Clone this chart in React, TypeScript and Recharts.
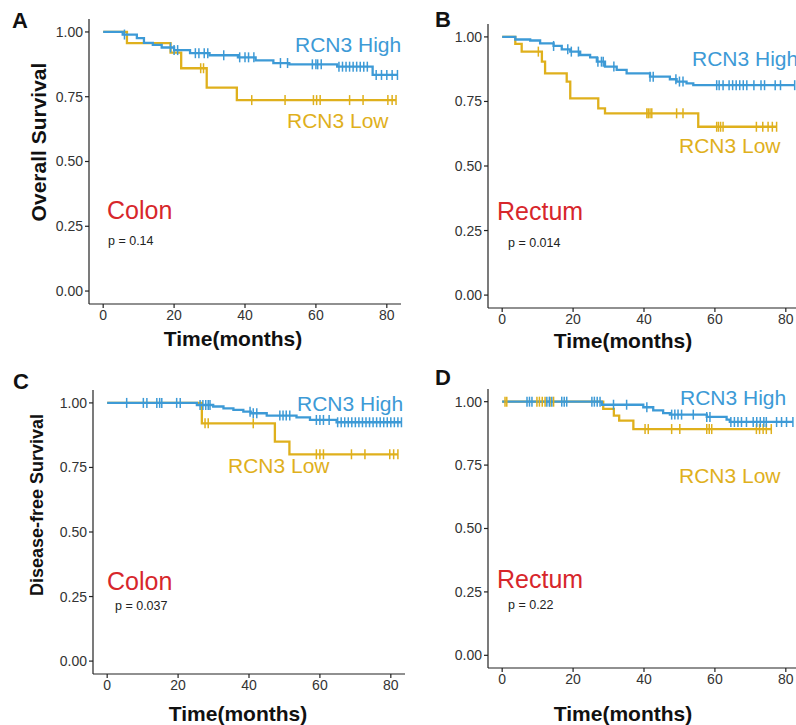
import React from "react";
import { LineChart, Line, XAxis, YAxis } from "recharts";

// step points [months, survival] and censor times
const colonOsHigh: [number, number][] = [
  [0, 1], [5.5, 0.99], [9.5, 0.976], [11.5, 0.958], [14, 0.95], [16.5, 0.94],
  [20, 0.93], [24.5, 0.918], [30, 0.91], [38, 0.902], [43, 0.89], [48, 0.88],
  [52.5, 0.875], [66, 0.866], [76, 0.834],
];
const colonOsHighCens = [
  6, 19, 20, 21, 26, 27, 28.5, 29.5, 34, 38.5, 40, 41, 42.5, 50, 52, 59, 60, 60.5,
  61.5, 66.5, 67.5, 68.5, 69.5, 70.5, 71.5, 72.5, 73.5, 74.5, 77, 78.5, 80, 81.5, 83,
];
const colonOsLow: [number, number][] = [
  [0, 1], [6.7, 0.957], [19, 0.92], [22, 0.86], [29.2, 0.785], [37.7, 0.737],
];
const colonOsLowCens = [27.5, 28.3, 41.9, 51.3, 59.3, 60.2, 61.2, 69.5, 73.3, 80.3, 81.5, 82.6];

const rectumOsHigh: [number, number][] = [
  [0, 1], [3.7, 0.99], [7.9, 0.986], [10.7, 0.975], [14.5, 0.965], [16.8, 0.952],
  [19.2, 0.943], [22, 0.93], [24.8, 0.921], [26.7, 0.904], [29, 0.885], [32.3, 0.872],
  [35.1, 0.859], [41.7, 0.846], [47.3, 0.836], [49.2, 0.827], [52, 0.82], [53.9, 0.813],
];
const rectumOsHighCens = [
  14.5, 18.5, 19.5, 21.5, 27, 28, 28.5, 31.5, 41.7, 42.6, 49, 50, 51, 60.5, 61.2, 62.3,
  64, 65, 66, 67, 68, 69, 71, 73, 74, 77, 78.5, 82.5,
];
const rectumOsLow: [number, number][] = [
  [0, 1], [3.7, 0.973], [5.5, 0.943], [11.2, 0.904], [12.1, 0.859], [18.2, 0.827],
  [19.2, 0.762], [27.1, 0.723], [29, 0.704], [55.3, 0.652],
];
const rectumOsLowCens = [
  10.2, 40.8, 41.2, 41.7, 42.2, 49.2, 51, 60.5, 61, 61.6, 62.3, 71.7, 73.5, 75, 76.2, 77.4,
];

const colonDfsHigh: [number, number][] = [
  [0, 1], [25.3, 0.992], [29.9, 0.986], [32.8, 0.979], [35.6, 0.973], [38.4, 0.966],
  [40.5, 0.96], [45, 0.951], [53.4, 0.944], [57.2, 0.934], [64.7, 0.925],
];
const colonDfsHighCens = [
  5.5, 10.2, 11.2, 14, 14.8, 15.4, 19.6, 20.6, 26.2, 27, 27.8, 28.5, 29, 40.3, 41.2,
  42.2, 48.7, 49.6, 50.5, 51.5, 59, 60, 61, 62.6, 65, 66, 67, 68, 69, 70, 71, 72, 73,
  74, 75, 76, 77, 78, 79, 80, 81, 82, 83,
];
const colonDfsLow: [number, number][] = [
  [0, 1], [26.7, 0.921], [47.3, 0.85], [51.4, 0.801],
];
const colonDfsLowCens = [27.6, 28.5, 41.2, 59, 60, 61, 68.9, 72.7, 79.7, 80.8, 82];

const rectumDfsHigh: [number, number][] = [
  [0, 1], [28.1, 0.988], [39.8, 0.978], [42.6, 0.966], [45.4, 0.955], [47.3, 0.949],
  [57.7, 0.94], [63.3, 0.929], [64.2, 0.92],
];
const rectumDfsHighCens = [
  7, 7.7, 8.4, 12.6, 13.3, 14, 16.8, 17.5, 18.2, 25.3, 26, 26.8, 27.6, 31.4, 35.1, 40.8,
  47.8, 48.7, 49.6, 50.6, 53.9, 57.7, 58.6, 64.5, 65.5, 66.5, 67.5, 68.9, 70.8, 71.8,
  72.8, 73.8, 74.5, 77.4, 78.8, 80.2, 82,
];
const rectumDfsLow: [number, number][] = [
  [0, 1], [28.5, 0.972], [31.5, 0.945], [33, 0.925], [37, 0.892],
];
const rectumDfsLowCens = [
  0.8, 1.3, 9.8, 10.5, 11.3, 12.1, 13.5, 14.5, 40.3, 41.2, 47.8, 50.1, 57.7, 58.4, 59.1,
  71.7, 72.6, 73.6, 74.5, 75.9,
];

const xTicks = [0, 20, 40, 60, 80];
const yTicks = [0, 0.25, 0.5, 0.75, 1];

const BLUE = "#3d9ad6";
const GOLD = "#dfb01c";
const RED = "#d7262b";
const AXIS = "#222";
const FONT = "'Liberation Sans', Arial, Helvetica, sans-serif";

type Pt = { t: number; s: number; c: boolean };

// merge step points with censor marks; a censor mark sits on the current step value
function buildCurve(steps: [number, number][], cens: number[]): Pt[] {
  const valueAt = (t: number) => {
    let v = steps[0][1];
    for (const [st, sv] of steps) if (st <= t) v = sv;
    return v;
  };
  const pts: Pt[] = [
    ...steps.map(([t, s]) => ({ t, s, c: false })),
    ...cens.map((t) => ({ t, s: valueAt(t), c: true })),
  ];
  return pts.sort((a, b) => a.t - b.t || (a.c ? 1 : -1));
}

const censorDot = (color: string) => (props: any) => {
  const { cx, cy, payload, index } = props;
  if (!payload || !payload.c || cx == null) return <g key={`n${index}`} />;
  return (
    <line key={`c${index}`} x1={cx} x2={cx} y1={cy - 5} y2={cy + 5} stroke={color} strokeWidth={1.5} />
  );
};

type PanelProps = {
  plotLeft: number;
  plotTop: number;
  plotW: number;
  plotH: number;
  high: Pt[];
  low: Pt[];
};

const Y_AXIS_W = 60;
const X_AXIS_H = 30;

function Panel({ plotLeft, plotTop, plotW, plotH, high, low }: PanelProps) {
  return (
    <div style={{ position: "absolute", left: plotLeft - Y_AXIS_W, top: plotTop }}>
      <LineChart
        width={Y_AXIS_W + plotW}
        height={plotH + X_AXIS_H}
        margin={{ top: 0, right: 0, bottom: 0, left: 0 }}
      >
        <XAxis
          dataKey="t"
          type="number"
          domain={[-4, 84]}
          ticks={xTicks}
          allowDataOverflow
          height={X_AXIS_H}
          stroke={AXIS}
          strokeWidth={1.2}
          tickSize={4}
          tickMargin={2}
          tick={{ fill: "#333", fontSize: 14, fontFamily: FONT }}
        />
        <YAxis
          type="number"
          domain={[-0.05, 1.05]}
          ticks={yTicks}
          allowDataOverflow
          width={Y_AXIS_W}
          stroke={AXIS}
          strokeWidth={1.2}
          tickSize={4}
          tickMargin={2}
          tickFormatter={(v: number) => v.toFixed(2)}
          tick={{ fill: "#333", fontSize: 14, fontFamily: FONT }}
        />
        <Line
          data={low}
          dataKey="s"
          type="stepAfter"
          stroke={GOLD}
          strokeWidth={2.3}
          dot={censorDot(GOLD)}
          activeDot={false}
          isAnimationActive={false}
        />
        <Line
          data={high}
          dataKey="s"
          type="stepAfter"
          stroke={BLUE}
          strokeWidth={2.3}
          dot={censorDot(BLUE)}
          activeDot={false}
          isAnimationActive={false}
        />
      </LineChart>
    </div>
  );
}

type TextProps = {
  x: number;
  y: number;
  children: React.ReactNode;
  size: number;
  color?: string;
  bold?: boolean;
  center?: boolean;
  rotate?: boolean;
};

function Label({ x, y, children, size, color = "#111", bold, center, rotate }: TextProps) {
  const tf = rotate
    ? "translate(-50%, -50%) rotate(-90deg)"
    : center
    ? "translate(-50%, -50%)"
    : "translateY(-50%)";
  return (
    <div
      style={{
        position: "absolute",
        left: x,
        top: y,
        transform: tf,
        fontSize: size,
        fontWeight: bold ? 700 : 400,
        color,
        fontFamily: FONT,
        whiteSpace: "nowrap",
        lineHeight: 1,
      }}
    >
      {children}
    </div>
  );
}

export default function App() {
  return (
    <div
      style={{
        position: "absolute",
        left: 0,
        top: 0,
        width: 796,
        height: 725,
        overflow: "hidden",
        background: "#fff",
      }}
    >
      <Panel plotLeft={89} plotTop={19} plotW={312} plotH={285}
        high={buildCurve(colonOsHigh, colonOsHighCens)} low={buildCurve(colonOsLow, colonOsLowCens)} />
      <Panel plotLeft={488} plotTop={24} plotW={312} plotH={284}
        high={buildCurve(rectumOsHigh, rectumOsHighCens)} low={buildCurve(rectumOsLow, rectumOsLowCens)} />
      <Panel plotLeft={93} plotTop={390} plotW={312} plotH={284}
        high={buildCurve(colonDfsHigh, colonDfsHighCens)} low={buildCurve(colonDfsLow, colonDfsLowCens)} />
      <Panel plotLeft={488} plotTop={389} plotW={312} plotH={279}
        high={buildCurve(rectumDfsHigh, rectumDfsHighCens)} low={buildCurve(rectumDfsLow, rectumDfsLowCens)} />

      <Label x={20} y={21} size={22} bold center>A</Label>
      <Label x={443} y={20} size={22} bold center>B</Label>
      <Label x={21} y={382} size={22} bold center>C</Label>
      <Label x={443} y={378} size={22} bold center>D</Label>

      <Label x={38} y={142} size={21} bold rotate>Overall Survival</Label>
      <Label x={37} y={505} size={18} bold rotate>Disease-free Survival</Label>

      <Label x={233} y={338} size={21} bold center>Time(months)</Label>
      <Label x={623} y={340} size={21} bold center>Time(months)</Label>
      <Label x={238} y={713} size={21} bold center>Time(months)</Label>
      <Label x={623} y={713} size={21} bold center>Time(months)</Label>

      <Label x={295} y={44} size={21} color={BLUE}>RCN3 High</Label>
      <Label x={287} y={120} size={21} color={GOLD}>RCN3 Low</Label>
      <Label x={107} y={210} size={25} color={RED}>Colon</Label>
      <Label x={108} y={241} size={12.5} color="#222">p = 0.14</Label>

      <Label x={692} y={58} size={21} color={BLUE}>RCN3 High</Label>
      <Label x={679} y={145} size={21} color={GOLD}>RCN3 Low</Label>
      <Label x={497} y={211} size={25} color={RED}>Rectum</Label>
      <Label x={508} y={243} size={12.5} color="#222">p = 0.014</Label>

      <Label x={297} y={403} size={21} color={BLUE}>RCN3 High</Label>
      <Label x={228} y={465} size={21} color={GOLD}>RCN3 Low</Label>
      <Label x={107} y={581} size={25} color={RED}>Colon</Label>
      <Label x={115} y={606} size={12.5} color="#222">p = 0.037</Label>

      <Label x={680} y={397} size={21} color={BLUE}>RCN3 High</Label>
      <Label x={679} y={475} size={21} color={GOLD}>RCN3 Low</Label>
      <Label x={497} y={579} size={25} color={RED}>Rectum</Label>
      <Label x={508} y={605} size={12.5} color="#222">p = 0.22</Label>
    </div>
  );
}
